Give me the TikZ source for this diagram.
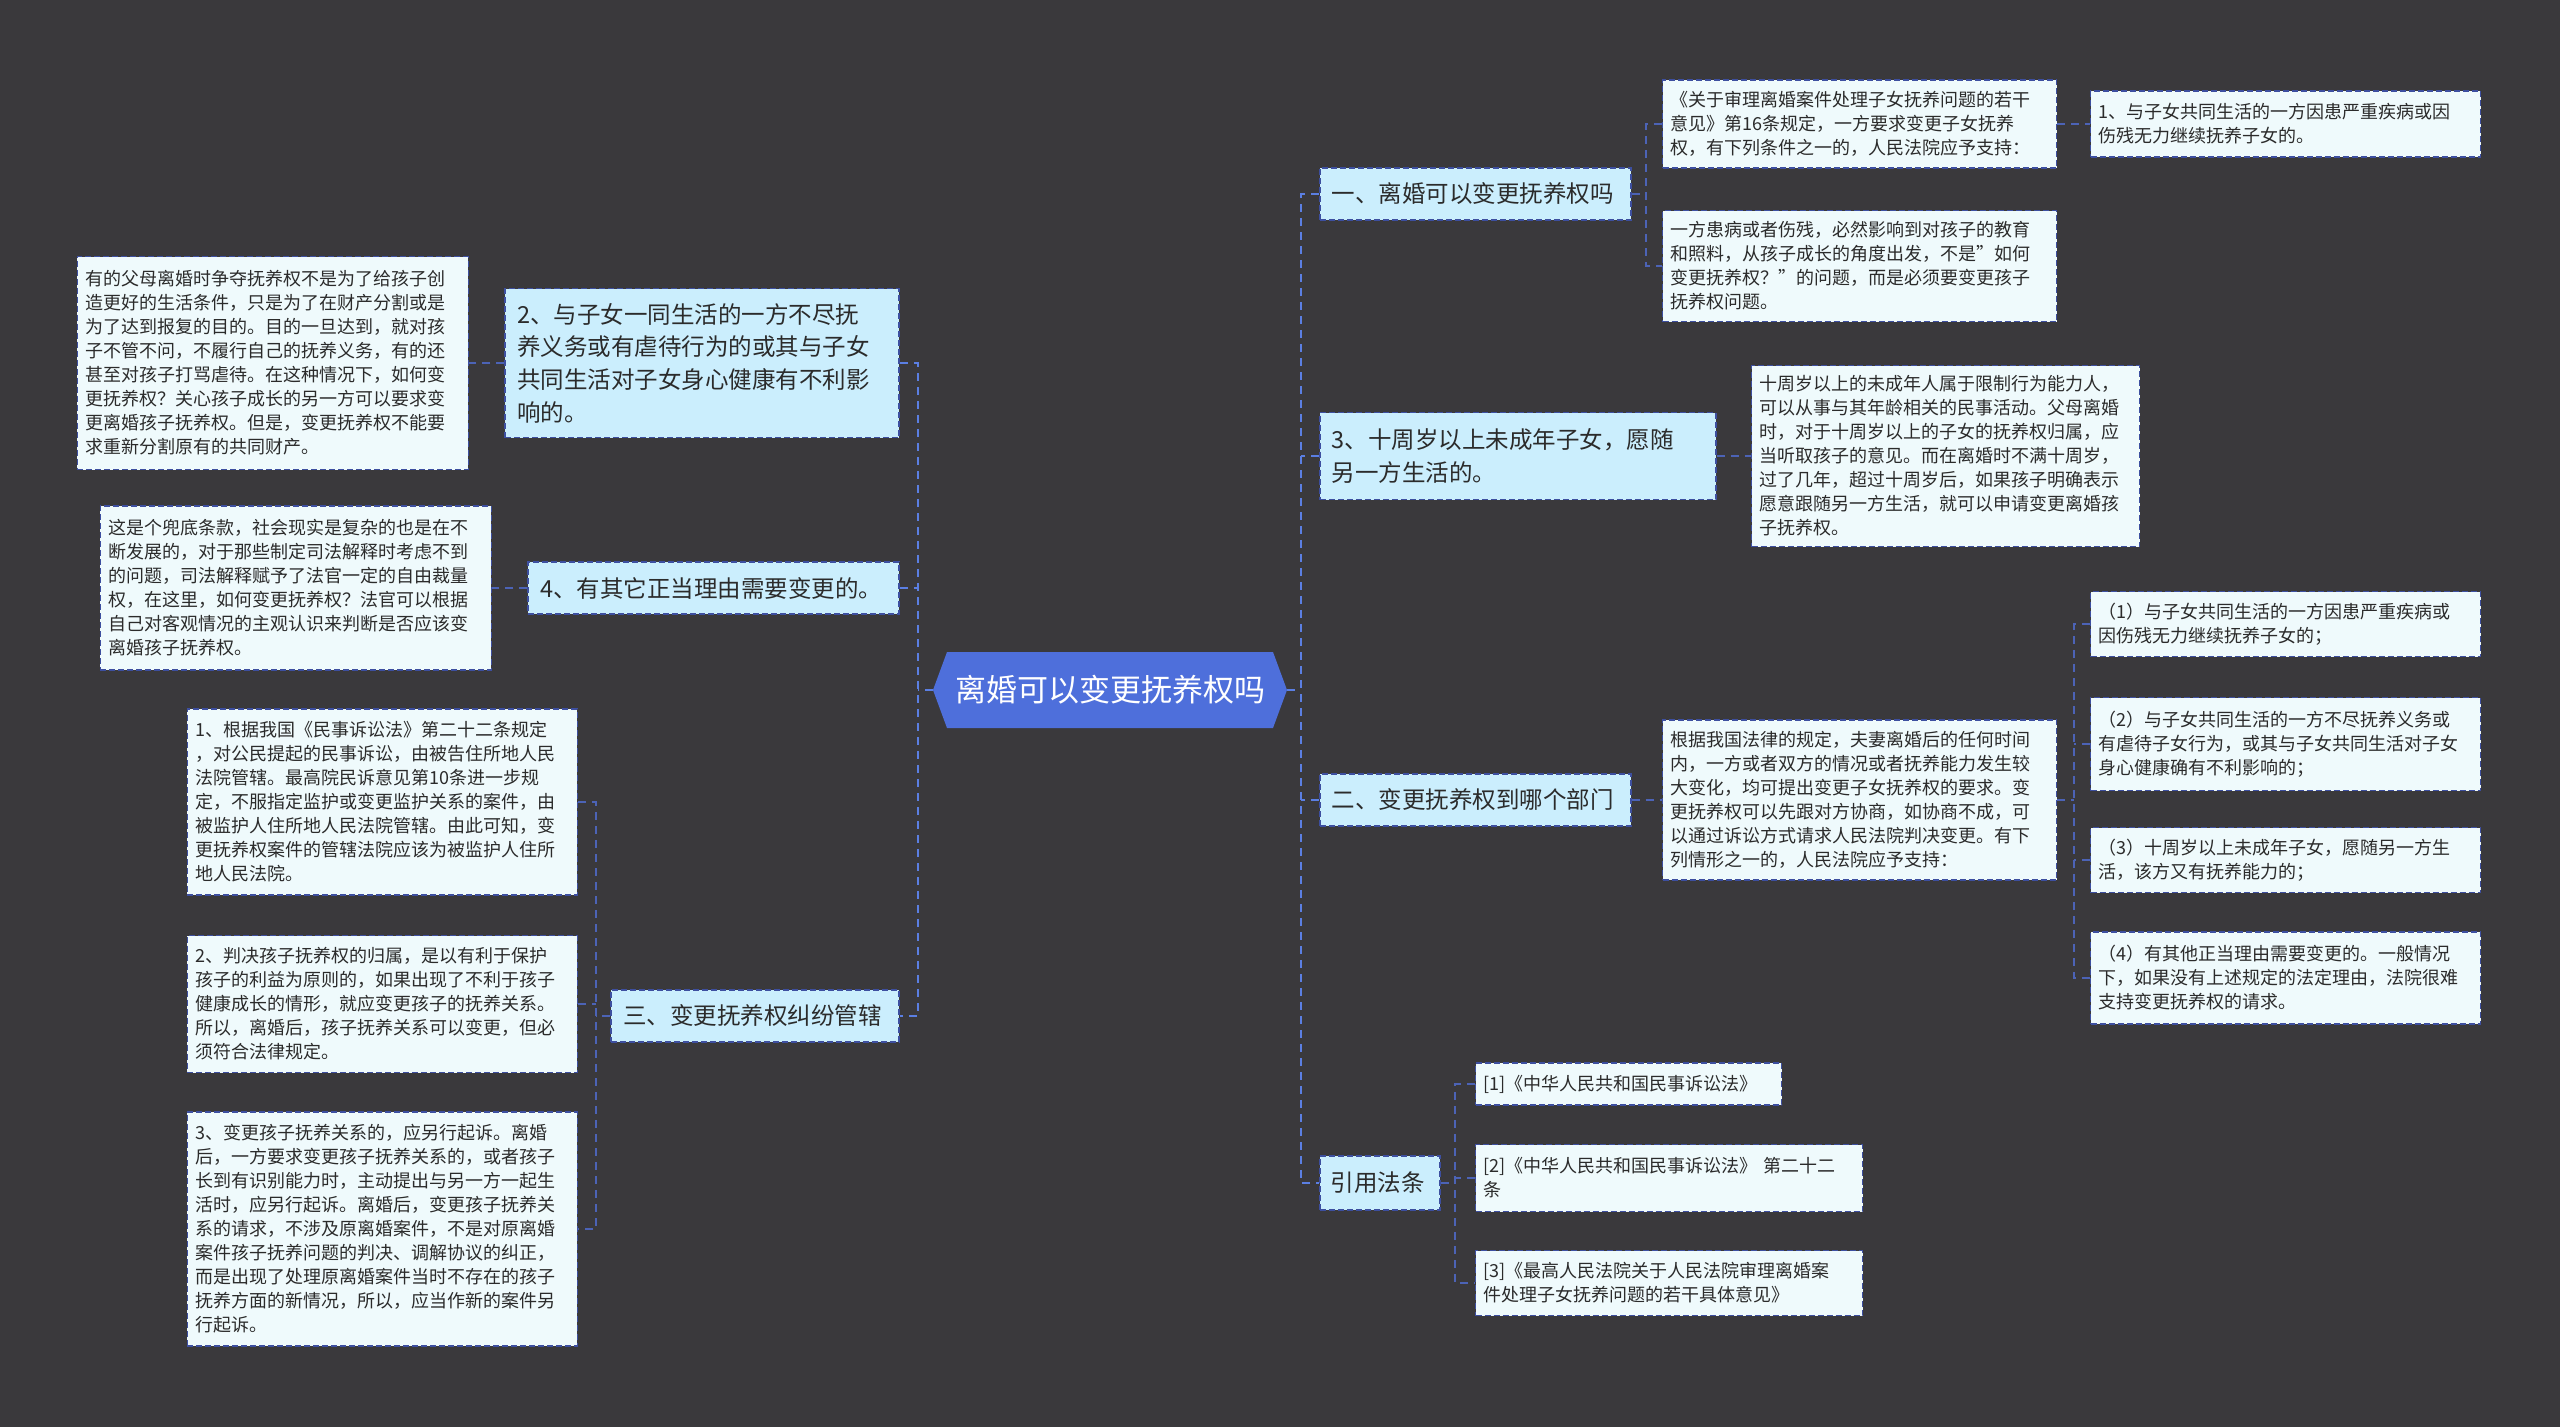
\documentclass[tikz,border=0pt]{standalone}
\usepackage{fontspec}
\setmainfont{Noto Sans CJK SC}
\definecolor{bgc}{HTML}{3A393C}
\definecolor{lvAfill}{HTML}{CBEEFD}
\definecolor{lvBfill}{HTML}{EFFAFC}
\definecolor{bordc}{HTML}{3D4FA0}
\definecolor{conc}{HTML}{4C63B6}
\definecolor{cconc}{HTML}{5B7FE3}
\definecolor{ctrfill}{HTML}{4E6FDB}
\definecolor{txtc}{HTML}{2B2B2B}
\begin{document}
\begin{tikzpicture}[x=1pt,y=-1pt,
  lvA/.style={draw=bordc, line width=1.6pt, dash pattern=on 6pt off 3pt, fill=lvAfill, text=txtc,
    font=\fontsize{23.5}{32.7}\selectfont, align=left, inner xsep=12pt, inner ysep=4pt},
  lvB/.style={draw=bordc, line width=1.4pt, dash pattern=on 6pt off 3pt, fill=lvBfill, text=txtc,
    font=\fontsize{18}{24}\selectfont, align=left, inner xsep=8pt, inner ysep=4pt},
  con/.style={draw=conc, line width=2pt, dash pattern=on 8pt off 6pt},
  ccon/.style={draw=cconc, line width=2.6pt, dash pattern=on 8pt off 6pt},
  ctrnode/.style={text=white, font=\fontsize{31}{36}\selectfont, minimum width=354pt, minimum height=76pt, inner sep=0pt}
]
\fill[bgc] (0,0) rectangle (2560,1427);
\useasboundingbox (0,0) rectangle (2560,1427);

% centre
\fill[ctrfill] (933,690) -- (947,652) -- (1273,652) -- (1287,690) -- (1273,728) -- (947,728) -- cycle;
\node[ctrnode] (ctr) at (1110,690) {离婚可以变更抚养权吗};

% right level 1
\node[lvA, anchor=west, text width=287pt, minimum height=52pt] (n1) at (1319,194) {一、离婚可以变更抚养权吗};
\node[lvA, anchor=west, text width=372pt, minimum height=87pt] (n3R) at (1319,456) {3、十周岁以上未成年子女，愿随\\另一方生活的。};
\node[lvA, anchor=west, text width=287pt, minimum height=52pt] (n5) at (1319,800) {二、变更抚养权到哪个部门};
\node[lvA, anchor=west, text width=98pt, inner xsep=11pt, minimum height=54pt] (n6) at (1319,1183) {引用法条};

% left level 1
\node[lvA, anchor=east, text width=370pt, minimum height=149pt] (n2) at (900,363) {2、与子女一同生活的一方不尽抚\\养义务或有虐待行为的或其与子女\\共同生活对子女身心健康有不利影\\响的。};
\node[lvA, anchor=east, text width=347pt, minimum height=52pt] (n4) at (900,588) {4、有其它正当理由需要变更的。};
\node[lvA, anchor=east, text width=264pt, minimum height=52pt] (n3L) at (900,1016) {三、变更抚养权纠纷管辖};

% right level 2
\node[lvB, anchor=west, text width=378pt, minimum height=88pt] (A) at (1662,124) {《关于审理离婚案件处理子女抚养问题的若干\\意见》第16条规定，一方要求变更子女抚养\\权，有下列条件之一的，人民法院应予支持：};
\node[lvB, anchor=west, text width=374pt, minimum height=66pt] (A1) at (2090,124) {1、与子女共同生活的一方因患严重疾病或因\\伤残无力继续抚养子女的。};
\node[lvB, anchor=west, text width=378pt, minimum height=111pt] (B) at (1662,266) {一方患病或者伤残，必然影响到对孩子的教育\\和照料，从孩子成长的角度出发，不是"如何\\变更抚养权？"的问题，而是必须要变更孩子\\抚养权问题。};
\node[lvB, anchor=west, text width=372pt, minimum height=181pt] (C) at (1751,456) {十周岁以上的未成年人属于限制行为能力人，\\可以从事与其年龄相关的民事活动。父母离婚\\时，对于十周岁以上的子女的抚养权归属，应\\当听取孩子的意见。而在离婚时不满十周岁，\\过了几年，超过十周岁后，如果孩子明确表示\\愿意跟随另一方生活，就可以申请变更离婚孩\\子抚养权。};
\node[lvB, anchor=west, text width=378pt, minimum height=160pt] (D) at (1662,800) {根据我国法律的规定，夫妻离婚后的任何时间\\内，一方或者双方的情况或者抚养能力发生较\\大变化，均可提出变更子女抚养权的要求。变\\更抚养权可以先跟对方协商，如协商不成，可\\以通过诉讼方式请求人民法院判决变更。有下\\列情形之一的，人民法院应予支持：};
\node[lvB, anchor=west, text width=374pt, minimum height=65pt] (P1) at (2090,624) {（1）与子女共同生活的一方因患严重疾病或\\因伤残无力继续抚养子女的；};
\node[lvB, anchor=west, text width=374pt, minimum height=93pt] (P2) at (2090,744) {（2）与子女共同生活的一方不尽抚养义务或\\有虐待子女行为，或其与子女共同生活对子女\\身心健康确有不利影响的；};
\node[lvB, anchor=west, text width=374pt, minimum height=65pt] (P3) at (2090,860) {（3）十周岁以上未成年子女，愿随另一方生\\活，该方又有抚养能力的；};
\node[lvB, anchor=west, text width=374pt, minimum height=92pt] (P4) at (2090,978) {（4）有其他正当理由需要变更的。一般情况\\下，如果没有上述规定的法定理由，法院很难\\支持变更抚养权的请求。};
\node[lvB, anchor=west, text width=290pt, minimum height=42pt] (R1) at (1475,1084) {[1]《中华人民共和国民事诉讼法》};
\node[lvB, anchor=west, text width=371pt, minimum height=67pt] (R2) at (1475,1178) {[2]《中华人民共和国民事诉讼法》 第二十二\\条};
\node[lvB, anchor=west, text width=371pt, minimum height=65pt] (R3) at (1475,1283) {[3]《最高人民法院关于人民法院审理离婚案\\件处理子女抚养问题的若干具体意见》};

% left level 2
\node[lvB, anchor=east, text width=375pt, minimum height=213pt] (E) at (469,363) {有的父母离婚时争夺抚养权不是为了给孩子创\\造更好的生活条件，只是为了在财产分割或是\\为了达到报复的目的。目的一旦达到，就对孩\\子不管不问，不履行自己的抚养义务，有的还\\甚至对孩子打骂虐待。在这种情况下，如何变\\更抚养权？关心孩子成长的另一方可以要求变\\更离婚孩子抚养权。但是，变更抚养权不能要\\求重新分割原有的共同财产。};
\node[lvB, anchor=east, text width=375pt, minimum height=164pt] (F) at (492,588) {这是个兜底条款，社会现实是复杂的也是在不\\断发展的，对于那些制定司法解释时考虑不到\\的问题，司法解释赋予了法官一定的自由裁量\\权，在这里，如何变更抚养权？法官可以根据\\自己对客观情况的主观认识来判断是否应该变\\离婚孩子抚养权。};
\node[lvB, anchor=east, text width=374pt, minimum height=186pt] (G1) at (578,802) {1、根据我国《民事诉讼法》第二十二条规定\\，对公民提起的民事诉讼，由被告住所地人民\\法院管辖。最高院民诉意见第10条进一步规\\定，不服指定监护或变更监护关系的案件，由\\被监护人住所地人民法院管辖。由此可知，变\\更抚养权案件的管辖法院应该为被监护人住所\\地人民法院。};
\node[lvB, anchor=east, text width=374pt, minimum height=137pt] (G2) at (578,1004) {2、判决孩子抚养权的归属，是以有利于保护\\孩子的利益为原则的，如果出现了不利于孩子\\健康成长的情形，就应变更孩子的抚养关系。\\所以，离婚后，孩子抚养关系可以变更，但必\\须符合法律规定。};
\node[lvB, anchor=east, text width=374pt, minimum height=234pt] (G3) at (578,1229) {3、变更孩子抚养关系的，应另行起诉。离婚\\后，一方要求变更孩子抚养关系的，或者孩子\\长到有识别能力时，主动提出与另一方一起生\\活时，应另行起诉。离婚后，变更孩子抚养关\\系的请求，不涉及原离婚案件，不是对原离婚\\案件孩子抚养问题的判决、调解协议的纠正，\\而是出现了处理原离婚案件当时不存在的孩子\\抚养方面的新情况，所以，应当作新的案件另\\行起诉。};

% centre connectors
\coordinate (RB) at (1301,690);
\coordinate (LB) at (918,690);
\draw[ccon] (ctr.east) -- (RB);
\draw[ccon] (n1.west) -- (n1.west -| RB) -- (n6.west -| RB) -- (n6.west);
\draw[ccon] (n3R.west) -- (n3R.west -| RB);
\draw[ccon] (n5.west) -- (n5.west -| RB);
\draw[ccon] (ctr.west) -- (LB);
\draw[ccon] (n2.east) -- (n2.east -| LB) -- (n3L.east -| LB) -- (n3L.east);
\draw[ccon] (n4.east) -- (n4.east -| LB);

% level 2 connectors, right
\coordinate (b1) at (1646,194);
\draw[con] (n1.east) -- (b1);
\draw[con] (A.west) -- (A.west -| b1) -- (B.west -| b1) -- (B.west);
\draw[con] (A.east) -- (A1.west);
\draw[con] (n3R.east) -- (C.west);
\draw[con] (n5.east) -- (D.west);
\coordinate (b2) at (2074,800);
\draw[con] (D.east) -- (b2);
\draw[con] (P1.west) -- (P1.west -| b2) -- (P4.west -| b2) -- (P4.west);
\draw[con] (P2.west) -- (P2.west -| b2);
\draw[con] (P3.west) -- (P3.west -| b2);
\coordinate (b3) at (1455,1183);
\draw[con] (n6.east) -- (b3);
\draw[con] (R1.west) -- (R1.west -| b3) -- (R3.west -| b3) -- (R3.west);
\draw[con] (R2.west) -- (R2.west -| b3);

% level 2 connectors, left
\draw[con] (n2.west) -- (E.east);
\draw[con] (n4.west) -- (F.east);
\coordinate (b4) at (596,1016);
\draw[con] (n3L.west) -- (b4);
\draw[con] (G1.east) -- (G1.east -| b4) -- (G3.east -| b4) -- (G3.east);
\draw[con] (G2.east) -- (G2.east -| b4);
\end{tikzpicture}
\end{document}
